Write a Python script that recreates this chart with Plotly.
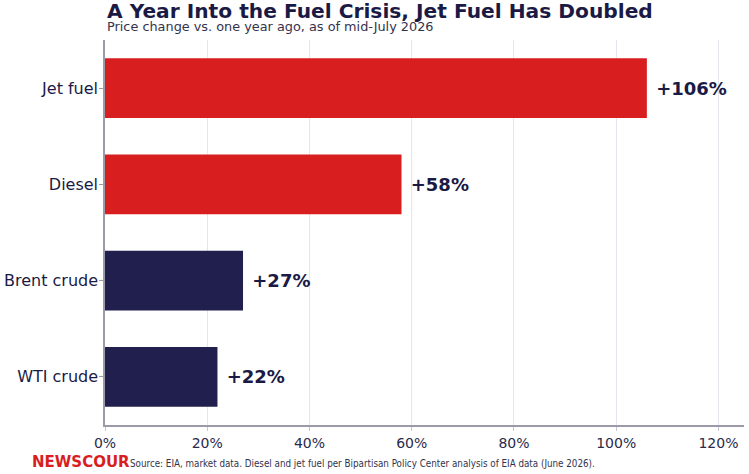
import plotly.graph_objects as go

categories = ["Jet fuel", "Diesel", "Brent crude", "WTI crude"]
values = [106, 58, 27, 22]
bar_colors = ["#d81e1e", "#d81e1e", "#201f4e", "#201f4e"]
tick_vals = [0, 20, 40, 60, 80, 100, 120]
tick_text = ["0%", "20%", "40%", "60%", "80%", "100%", "120%"]

navy = "#1b1a45"
font_family = "DejaVu Sans"

L, R, T, B = 105, 5, 40, 49
W, H = 749, 474
plot_w = W - L - R
plot_h = H - T - B

fig = go.Figure()
fig.add_trace(go.Bar(
    y=categories,
    x=values,
    orientation="h",
    marker=dict(color=bar_colors, line=dict(width=0)),
    text=[f"\u00a0+{v}%" for v in values],
    textposition="outside",
    textfont=dict(family=font_family, size=18, color=navy, weight="bold"),
    cliponaxis=False,
    hoverinfo="skip",
))

fig.update_layout(
    width=W, height=H,
    margin=dict(l=L, r=R, t=T, b=B, autoexpand=False),
    paper_bgcolor="white",
    plot_bgcolor="white",
    bargap=0.38,
    showlegend=False,
    font=dict(family=font_family, color=navy),
    xaxis=dict(
        range=[0, 125],
        tickvals=tick_vals,
        ticktext=tick_text,
        tickfont=dict(size=14, color="#2a2a4a"),
        showgrid=True,
        gridcolor="#e6e6ee",
        gridwidth=1,
        zeroline=False,
        showline=True,
        linecolor="#9a9aa8",
        linewidth=1.5,
        ticks="outside",
        ticklen=4,
        tickcolor="#c8c8d4",
        automargin=False,
    ),
    yaxis=dict(
        categoryorder="array",
        categoryarray=categories[::-1],
        tickfont=dict(size=16, color=navy),
        showgrid=False,
        zeroline=False,
        showline=True,
        linecolor="#9a9aa8",
        linewidth=1.5,
        ticks="outside",
        ticklen=4,
        tickcolor="#9a9aa8",
        ticklabelstandoff=-2,
        automargin=False,
    ),
)

fig.add_annotation(
    x=0, y=1, xref="paper", yref="paper",
    xanchor="left", yanchor="bottom", yshift=15,
    text="<b>A Year Into the Fuel Crisis, Jet Fuel Has Doubled</b>",
    showarrow=False,
    font=dict(family=font_family, size=20.2, color=navy),
)
fig.add_annotation(
    x=0, y=1, xref="paper", yref="paper",
    xanchor="left", yanchor="bottom", yshift=4,
    text="Price change vs. one year ago, as of mid-July 2026",
    showarrow=False,
    font=dict(family=font_family, size=12.85, color="#33334d"),
)
fig.add_annotation(
    x=(30 - L) / plot_w, y=-(462 - (H - B)) / plot_h, xref="paper", yref="paper",
    xanchor="left", yanchor="middle",
    text="<b>NEWSCOUR</b>",
    showarrow=False,
    font=dict(family=font_family, size=15, color="#d81e1e"),
)
fig.add_annotation(
    x=(128 - L) / plot_w, y=-(464 - (H - B)) / plot_h, xref="paper", yref="paper",
    xanchor="left", yanchor="middle",
    text="Source: EIA, market data. Diesel and jet fuel per Bipartisan Policy Center analysis of EIA data (June 2026).",
    showarrow=False,
    font=dict(family="DejaVu Sans Condensed, DejaVu Sans", size=9.75, color="#33334d"),
)

fig.write_html("out.html")
